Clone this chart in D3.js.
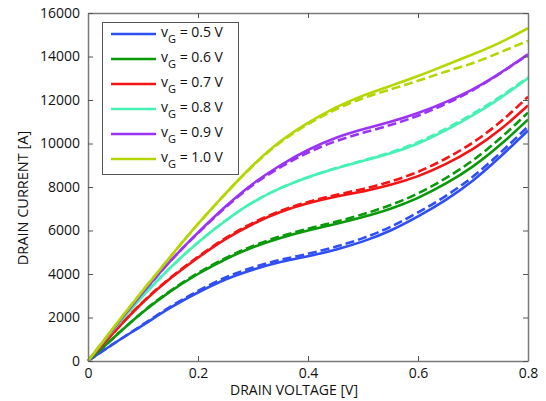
<!DOCTYPE html>
<html>
<head>
<meta charset="utf-8">
<script src="https://cdn.jsdelivr.net/npm/d3@7"></script>
<style>
  body { margin: 0; background: #fff; }
  text { font-family: "Open Sans", "Liberation Sans", sans-serif; fill: #111; }
</style>
</head>
<body>
<svg class="vis-container"></svg>
<script>
// drain voltage samples (V)
const voltage = [0, 0.05, 0.1, 0.15, 0.2, 0.25, 0.3, 0.35, 0.4, 0.45, 0.5, 0.55, 0.6, 0.65, 0.7, 0.75, 0.8];

// gate voltages for each curve
const gateLabels = ["0.5", "0.6", "0.7", "0.8", "0.9", "1.0"];
const colors = ["#2f4ff5", "#0a990a", "#f51414", "#45f2b4", "#9b33f5", "#b5d600"];

// solid curves, drain current [A]
const solid05 = [0, 850, 1650, 2450, 3150, 3750, 4200, 4550, 4820, 5120, 5500, 6000, 6650, 7400, 8300, 9400, 10600];
const solid06 = [0, 1150, 2250, 3200, 4000, 4680, 5230, 5660, 6000, 6300, 6620, 7000, 7500, 8150, 8950, 9950, 11100];
const solid07 = [0, 1400, 2700, 3800, 4750, 5600, 6300, 6850, 7250, 7550, 7800, 8100, 8500, 9050, 9750, 10650, 11750];
const solid08 = [0, 1550, 3000, 4300, 5450, 6450, 7300, 7950, 8450, 8850, 9200, 9550, 10000, 10600, 11300, 12100, 13000];
const solid09 = [0, 1600, 3150, 4600, 5900, 7100, 8150, 9000, 9700, 10250, 10650, 11000, 11400, 11900, 12500, 13250, 14100];
const solid10 = [0, 1650, 3250, 4800, 6300, 7700, 9000, 10100, 10950, 11650, 12200, 12650, 13100, 13600, 14100, 14650, 15300];

// dashed curves
const dash05 = [0, 850, 1680, 2500, 3220, 3840, 4300, 4650, 4930, 5250, 5650, 6170, 6830, 7580, 8480, 9580, 10780];
const dash06 = [0, 1150, 2270, 3230, 4040, 4730, 5290, 5730, 6080, 6400, 6750, 7170, 7710, 8400, 9230, 10250, 11420];
const dash07 = [0, 1400, 2720, 3830, 4790, 5650, 6350, 6900, 7310, 7630, 7910, 8250, 8700, 9300, 10050, 11000, 12150];
const dash08 = [0, 1550, 3000, 4300, 5450, 6450, 7300, 7950, 8450, 8860, 9220, 9590, 10060, 10670, 11370, 12160, 13040];
const dash09 = [0, 1600, 3150, 4600, 5880, 7060, 8090, 8910, 9580, 10100, 10490, 10850, 11280, 11820, 12460, 13230, 14080];
const dash10 = [0, 1650, 3250, 4800, 6300, 7690, 8980, 10060, 10890, 11560, 12080, 12490, 12880, 13300, 13700, 14200, 14720];

const xTicks = [0, 0.2, 0.4, 0.6, 0.8];
const yTicks = [0, 2000, 4000, 6000, 8000, 10000, 12000, 14000, 16000];

const solidSeries = [solid05, solid06, solid07, solid08, solid09, solid10];
const dashSeries = [dash05, dash06, dash07, dash08, dash09, dash10];

const width = 546, height = 401;
const margin = {top: 13, left: 88, right: 18, bottom: 40};

const svg = d3.select('.vis-container')
  .attr('width', width)
  .attr('height', height);

const x = d3.scaleLinear().domain([0, 0.8]).range([margin.left, width - margin.right]);
const y = d3.scaleLinear().domain([0, 16000]).range([height - margin.bottom, margin.top]);

const line = d3.line()
  .x((d, i) => x(voltage[i]))
  .y(d => y(d))
  .curve(d3.curveNatural);

// curves: dashed first, solid on top
const curves = svg.append('g');
dashSeries.forEach((s, k) => {
  curves.append('path')
    .attr('d', line(s))
    .attr('fill', 'none')
    .attr('stroke', colors[k])
    .attr('stroke-width', 2.6)
    .attr('stroke-dasharray', '9,4');
});
solidSeries.forEach((s, k) => {
  curves.append('path')
    .attr('d', line(s))
    .attr('fill', 'none')
    .attr('stroke', colors[k])
    .attr('stroke-width', 2.6);
});

// frame with inward ticks on all four sides
const tickLen = 5;
const frame = svg.append('g');
const axB = d3.axisBottom(x).tickValues(xTicks).tickSizeInner(-tickLen).tickSizeOuter(0).tickFormat(d => d === 0 ? '0' : d3.format('.1f')(d)).tickPadding(7);
const axT = d3.axisTop(x).tickValues(xTicks).tickSizeInner(-tickLen).tickSizeOuter(0).tickFormat('');
const axL = d3.axisLeft(y).tickValues(yTicks).tickSizeInner(-tickLen).tickSizeOuter(0).tickFormat(d3.format('d')).tickPadding(8);
const axR = d3.axisRight(y).tickValues(yTicks).tickSizeInner(-tickLen).tickSizeOuter(0).tickFormat('');

frame.append('g').attr('transform', `translate(0,${y(0)})`).call(axB);
frame.append('g').attr('transform', `translate(0,${y(16000)})`).call(axT);
frame.append('g').attr('transform', `translate(${x(0)},0)`).call(axL);
frame.append('g').attr('transform', `translate(${x(0.8)},0)`).call(axR);

frame.selectAll('.domain').attr('stroke', '#7a7a7a').attr('stroke-width', 1.5);
frame.selectAll('.tick line').attr('stroke', '#555');
frame.selectAll('.tick text').style('font-size', '14px').attr('fill', '#111');

// axis titles
svg.append('text')
  .attr('x', 294)
  .attr('y', 395)
  .attr('text-anchor', 'middle')
  .style('font-size', '14px')
  .text('DRAIN VOLTAGE [V]');

svg.append('text')
  .attr('transform', `translate(28,198) rotate(-90)`)
  .attr('text-anchor', 'middle')
  .style('font-size', '14.5px')
  .text('DRAIN CURRENT [A]');

// legend
const legend = svg.append('g');
legend.append('rect')
  .attr('x', 102.5).attr('y', 22.5)
  .attr('width', 136).attr('height', 152)
  .attr('fill', '#fff')
  .attr('stroke', '#555')
  .attr('stroke-width', 1);

gateLabels.forEach((g, k) => {
  const ry = 34 + k * 25;
  legend.append('line')
    .attr('x1', 111).attr('x2', 156)
    .attr('y1', ry).attr('y2', ry)
    .attr('stroke', colors[k])
    .attr('stroke-width', 2.6);
  const t = legend.append('text')
    .attr('x', 161).attr('y', ry + 3)
    .style('font-size', '14px');
  t.append('tspan').text('v');
  t.append('tspan').attr('dy', 6).style('font-size', '11px').text('G');
  t.append('tspan').attr('dy', -6).text(' = ' + g + ' V');
});
</script>
</body>
</html>
